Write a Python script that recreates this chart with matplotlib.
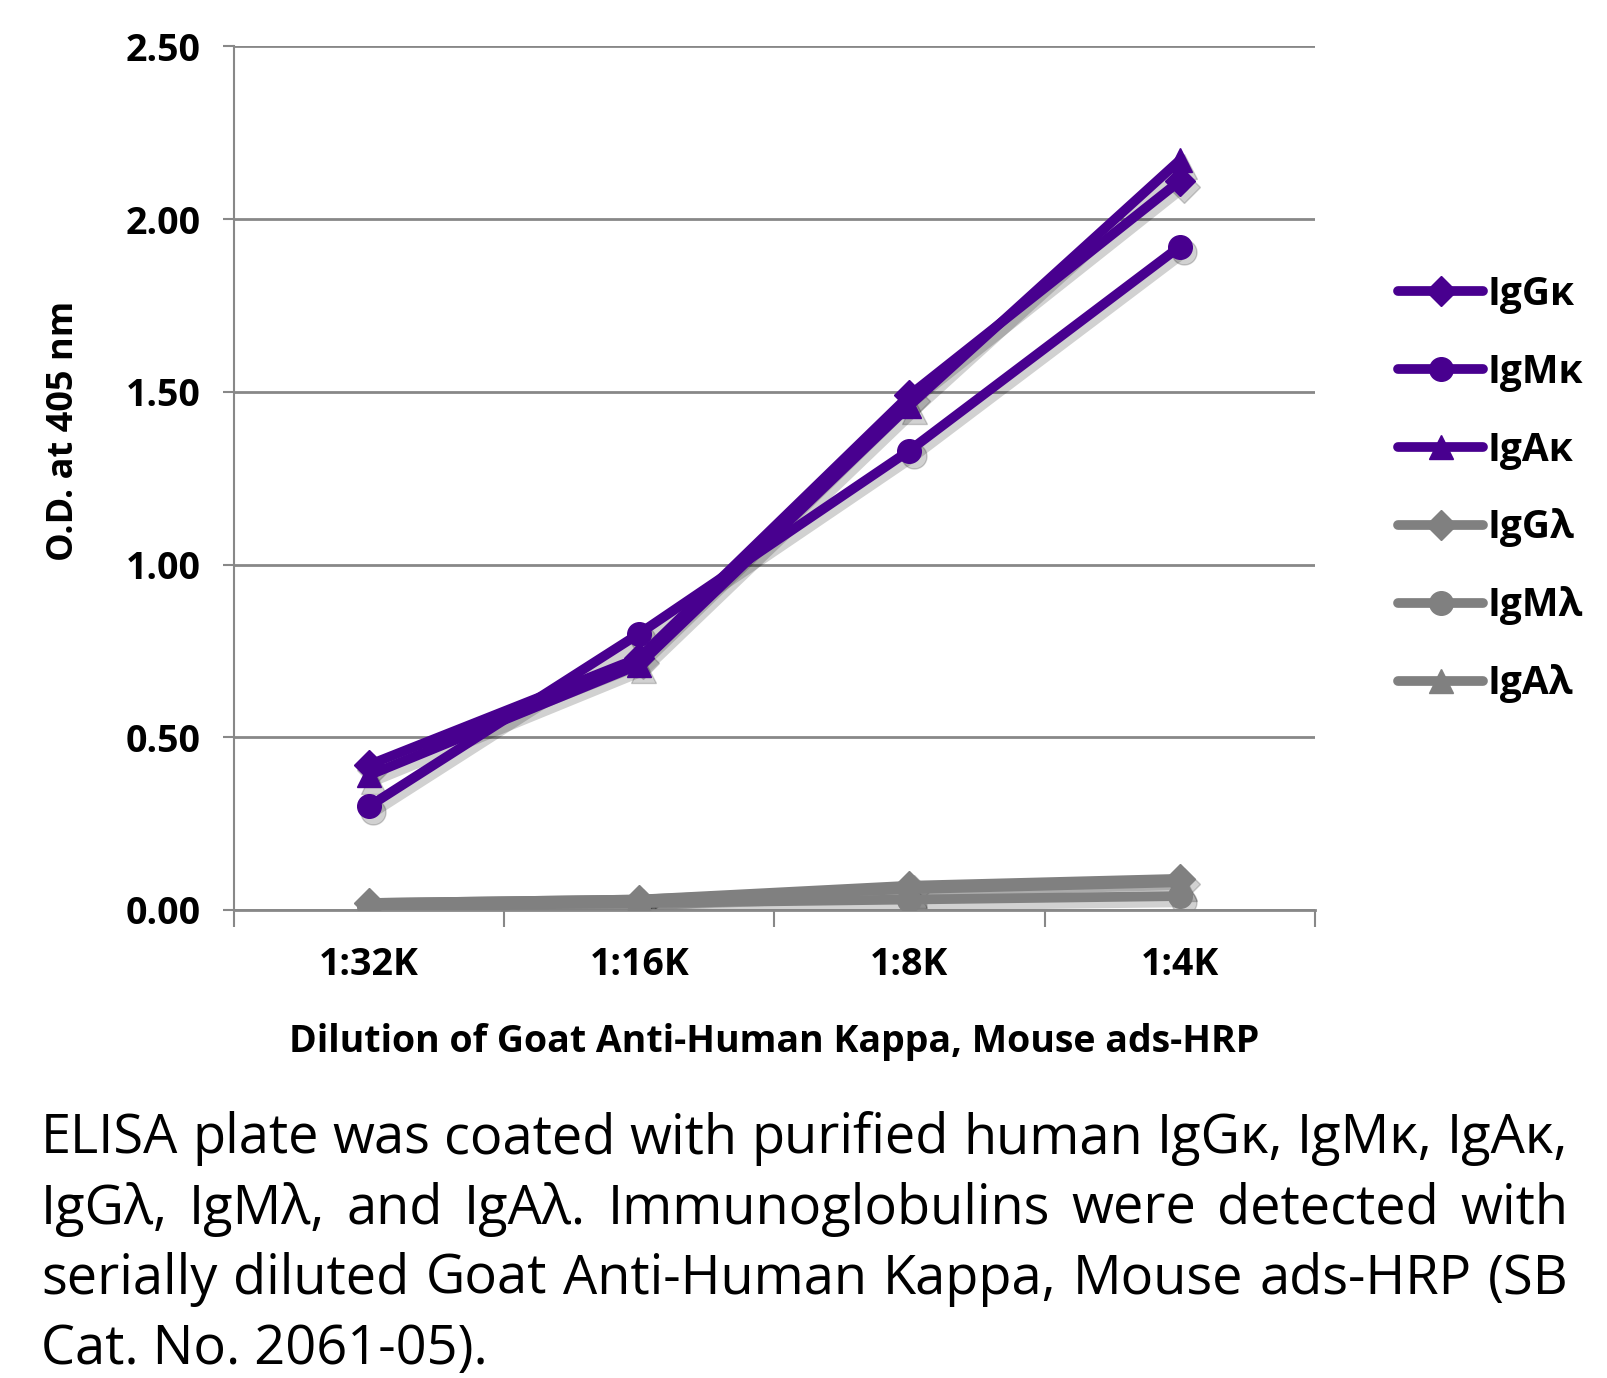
import matplotlib
matplotlib.use("Agg")
import matplotlib.pyplot as plt
import matplotlib.transforms as mtransforms

plt.rcParams['font.family'] = ['Open Sans', 'DejaVu Sans']

dilutions = ['1:32K', '1:16K', '1:8K', '1:4K']
igg_k = [0.42, 0.73, 1.49, 2.11]
igm_k = [0.30, 0.80, 1.33, 1.92]
iga_k = [0.39, 0.71, 1.46, 2.17]
igg_l = [0.02, 0.03, 0.07, 0.09]
igm_l = [0.01, 0.02, 0.03, 0.04]
iga_l = [0.02, 0.03, 0.06, 0.08]

purple = '#48008f'
grey = '#808080'

series = [
    ('IgG\u03ba', igg_k, purple, 'D'),
    ('IgM\u03ba', igm_k, purple, 'o'),
    ('IgA\u03ba', iga_k, purple, '^'),
    ('IgG\u03bb', igg_l, grey, 'D'),
    ('IgM\u03bb', igm_l, grey, 'o'),
    ('IgA\u03bb', iga_l, grey, '^'),
]
msizes = {'D': 15, 'o': 17, '^': 17}

fig = plt.figure(figsize=(16.07, 13.78), dpi=100)
ax = fig.add_axes([0.1456, 0.3397, 0.6725, 0.6266])

x = list(range(len(dilutions)))
shadow_tr = mtransforms.offset_copy(ax.transData, fig=fig, x=3, y=-4, units='points')
# shadows first
for name, vals, col, mk in series:
    ax.plot(x, vals, color='black', alpha=0.18, marker=mk, markersize=msizes[mk] + 1,
            linewidth=8, solid_capstyle='round', transform=shadow_tr, zorder=2)
# grey first so purple sits on top
for name, vals, col, mk in series[3:] + series[:3]:
    ax.plot(x, vals, color=col, marker=mk, markersize=msizes[mk], linewidth=7,
            solid_capstyle='round', label=name, zorder=3)

ax.set_xlim(-0.5, 3.5)
ax.set_ylim(0, 2.5)
yt = [0, 0.5, 1.0, 1.5, 2.0, 2.5]
ax.set_yticks(yt)
ax.set_yticklabels(['%.2f' % v for v in yt], fontsize=27, fontweight='bold')
ax.set_xticks(x)
ax.set_xticklabels(dilutions, fontsize=27, fontweight='bold')
ax.set_xticks([-0.5, 0.5, 1.5, 2.5, 3.5], minor=True)
ax.tick_params(axis='x', which='major', length=0, pad=26)
ax.tick_params(axis='x', which='minor', length=12, width=1.5, color='#888888', direction='out')
ax.tick_params(axis='y', length=8, width=1.5, color='#888888', pad=16)
ax.grid(axis='y', color='#888888', linewidth=2)
ax.set_axisbelow(True)
for s in ['top', 'right']:
    ax.spines[s].set_visible(False)
ax.spines['left'].set_color('#888888')
ax.spines['left'].set_linewidth(1.5)
ax.spines['bottom'].set_color('#888888')
ax.spines['bottom'].set_linewidth(2)

ax.set_ylabel('O.D. at 405 nm', fontsize=26, fontweight='bold')
ax.yaxis.set_label_coords(-0.141, 0.555)
ax.set_xlabel('Dilution of Goat Anti-Human Kappa, Mouse ads-HRP', fontsize=27,
              fontweight='bold', labelpad=28)

handles, labels = ax.get_legend_handles_labels()
order = [3, 4, 5, 0, 1, 2]
leg = fig.legend([handles[i] for i in order], [labels[i] for i in order],
                 loc='upper left', bbox_to_anchor=(0.848, 0.826), frameon=False,
                 handlelength=2.2, handletextpad=0.1, labelspacing=1.0,
                 prop={'size': 28, 'weight': 'bold'})

# justified caption
lines = [
    'ELISA plate was coated with purified human IgG\u03ba, IgM\u03ba, IgA\u03ba,',
    'IgG\u03bb, IgM\u03bb, and IgA\u03bb.  Immunoglobulins were detected with',
    'serially diluted Goat Anti-Human Kappa, Mouse ads-HRP (SB',
    'Cat. No. 2061-05).',
]
W, H = 1607, 1378
left_px, right_px = 41, 1568
baselines = [1153, 1224, 1294, 1364]
fig.canvas.draw()
r = fig.canvas.get_renderer()
probe = fig.text(0, 0, lines[0], fontsize=40)
fs = 40 * (right_px - left_px) / probe.get_window_extent(r).width
probe.remove()
for i, line in enumerate(lines):
    yb = 1 - baselines[i] / H
    if i == len(lines) - 1:
        fig.text(left_px / W, yb, line, fontsize=fs, va='baseline', ha='left')
        continue
    words = line.split()
    txts = [fig.text(0, yb, w, fontsize=fs, va='baseline', ha='left') for w in words]
    widths = [t.get_window_extent(r).width for t in txts]
    gap = (right_px - left_px - sum(widths)) / (len(words) - 1)
    xp = left_px
    for t, wd in zip(txts, widths):
        t.set_x(xp / W)
        xp += wd + gap

fig.savefig('out.png', dpi=100)
